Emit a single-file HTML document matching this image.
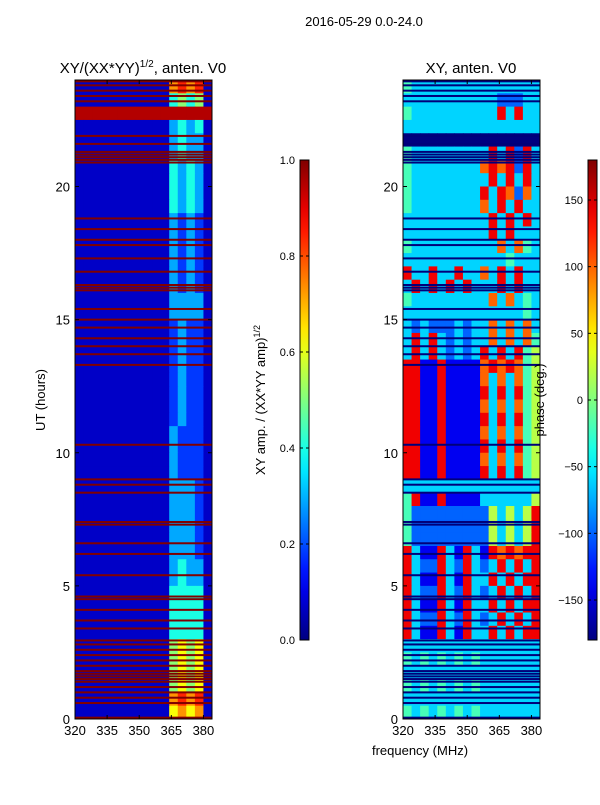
<!DOCTYPE html>
<html><head><meta charset="utf-8"><style>
body{margin:0;background:#fff;font-family:"Liberation Sans",sans-serif}
svg text{font-family:"Liberation Sans",sans-serif}
</style></head><body>
<svg id="fig" width="600" height="800" xmlns="http://www.w3.org/2000/svg">
<rect width="600" height="800" fill="#fff"/>
<text x="364" y="26" font-size="13" text-anchor="middle">2016-05-29 0.0-24.0</text>
<text x="143" y="73" font-size="15" text-anchor="middle">XY/(XX*YY)<tspan font-size="10" dy="-6">1/2</tspan><tspan dy="6">, anten. V0</tspan></text>
<text x="471" y="73" font-size="15" text-anchor="middle">XY, anten. V0</text>
<text transform="translate(45,400) rotate(-90)" font-size="13" text-anchor="middle">UT (hours)</text>
<text transform="translate(265,400) rotate(-90)" font-size="13" text-anchor="middle">XY amp. / (XX*YY amp)<tspan font-size="9" dy="-5">1/2</tspan></text>
<g id="g"></g>
<text transform="translate(544,400) rotate(-90)" font-size="13" text-anchor="middle">phase (deg.)</text>
<text x="420" y="755" font-size="13" text-anchor="middle">frequency (MHz)</text>
</svg>
<script>
const ampRows=[
"1111111111178781","1111111111145451","9999999999999999","1111111111134341","1111111111134331","1111111111134331",
"1111111111143431","1111111111143431","1111111111143431","1111111111143431",
"1111111111132321","1111111111132321","1111111111132321","1111111111132321","1111111111132321","1111111111132321",
"1111111111133331","1111111111133331",
"1111111111123221","1111111111123221","1111111111123221","1111111111123221","1111111111123221","1111111111123221","1111111111123221","1111111111123221",
"1111111111132221","1111111111132221","1111111111132221","1111111111132221",
"1111111111133321","1111111111133321","1111111111133321","1111111111133321","1111111111133321","1111111111133321",
"1111111111134331","1111111111134331",
"1111111111144441","1111111111144441","1111111111144441","1111111111144441",
"1111111111156561","1111111111156561","1111111111156561","1111111111156561",
"1111111111178781","1111111111167671"];
const phaseRows=[
"4333333333333333","3333333333322233","4333333333383833","3333333333333333","0000000000000000","4333333333838283",
"4333333337878283","4333333333838383","4333333338387273","4333333337383833","3333333333838383","3333333333838333",
"4333333333373743","3333333333334333","8338338337383833","3838383833383833","4333333333737343","3333333333333343",
"3232223233737373","3838323233737374","3838323238383845","8811811117878745",
"8811811117373745","8811811118383845","8811811117373745","8811811118383845","8811811117373745","8811811118383845","8811811117373745","8811811118383845",
"3333333333333333","4811811113333335","4222222222535358","4222222222535358","4222222222535358","8311831831878788",
"8322832832383838","8311831833838388","8322832832383838","8311831833838388","8322832832383838","8311831833838388",
"3333333333333333","4343434343333333","3333333333333333","4343434343333333","3333333333333333","4343434343333333"];
const flagHours=[23.95,23.8,23.6,23.4,23.2,21.9,21.6,21.3,21.2,21.1,21.0,20.9,18.8,18.4,18.0,17.8,17.3,16.8,16.3,16.2,16.1,15.4,15.0,14.7,14.3,14.0,13.7,13.3,10.3,9.0,8.8,8.5,7.4,7.3,6.6,6.2,5.4,4.6,4.5,4.1,3.7,3.4,2.95,2.8,2.6,2.4,2.2,2.0,1.8,1.7,1.6,1.5,1.4,1.2,1.0,0.8,0.6,0.05];
const xTicks=[320,335,350,365,380];
const yTicks=[0,5,10,15,20];
const ampTicks=["0.0","0.2","0.4","0.6","0.8","1.0"];
const phaseTicks=[-150,-100,-50,0,50,100,150];
(function(){
const NS="http://www.w3.org/2000/svg";
const g=document.getElementById('g');
function el(t,a,p){const e=document.createElementNS(NS,t);for(const k in a)e.setAttribute(k,a[k]);(p||g).appendChild(e);return e;}
function jet(v){v=Math.max(0,Math.min(1,v));
 const r=Math.min(1,Math.max(0,Math.min(4*v-1.5,-4*v+4.5)));
 const gg=Math.min(1,Math.max(0,Math.min(4*v-0.5,-4*v+3.5)));
 const b=Math.min(1,Math.max(0,Math.min(4*v+0.5,-4*v+2.5)));
 return `rgb(${Math.round(r*255)},${Math.round(gg*255)},${Math.round(b*255)})`;}
const f0=320,f1=384,h0=0,h1=24,yTop=80,yBot=719;
function yS(h){return yBot-(h-h0)/(h1-h0)*(yBot-yTop);}
function panel(x0,x1,rows,flagColor,name,cmap){
 const xS=f=>x0+(f-f0)/(f1-f0)*(x1-x0);
 const nr=rows.length,dh=(h1-h0)/nr;
 rows.forEach((row,i)=>{const nc=row.length,df=(f1-f0)/nc;
  for(let j=0;j<nc;j++){const d=+row[j];
   const hT=h1-i*dh;
   const r=el('rect',{x:xS(f0+j*df),y:yS(hT),width:xS(f0+(j+1)*df)-xS(f0+j*df)+0.5,height:yS(hT-dh)-yS(hT)+0.5,fill:jet(cmap(d))});
   
   }});
 flagHours.forEach(h=>{const r=el('rect',{x:x0,y:yS(h)-1,width:x1-x0,height:2,fill:flagColor});
  
  });
 const fr=el('rect',{x:x0,y:yTop,width:x1-x0,height:yBot-yTop,fill:'none',stroke:'#000','stroke-width':1});
 
 
 xTicks.forEach(f=>{const x=xS(f);el('line',{x1:x,x2:x,y1:yBot,y2:yBot-4,stroke:'#000'});el('line',{x1:x,x2:x,y1:yTop,y2:yTop+4,stroke:'#000'});
  const t=el('text',{x:x,y:yBot+16,'font-size':13,'text-anchor':'middle'});t.textContent=f;
  
  });
 yTicks.forEach(h=>{const y=yS(h);el('line',{x1:x0,x2:x0+4,y1:y,y2:y,stroke:'#000'});el('line',{x1:x1,x2:x1-4,y1:y,y2:y,stroke:'#000'});
  const t=el('text',{x:x0-5,y:y+5,'font-size':13,'text-anchor':'end'});t.textContent=h;
  
  });
}
panel(75,212,ampRows,'#800000','amp-panel',d=>(d-1)*0.11+0.07);
panel(403,540,phaseRows,'#00007a','phase-panel',d=>d/9);
function cbar(x,labels,vals,vmin,vmax,name){
 const defs=el('defs',{});const lg=el('linearGradient',{id:name+'g',x1:0,y1:1,x2:0,y2:0},defs);
 for(let i=0;i<=20;i++)el('stop',{offset:i/20,'stop-color':jet(i/20)},lg);
 const r=el('rect',{x:x,y:160,width:9,height:480,fill:`url(#${name}g)`,stroke:'#000'});
 
 
 vals.forEach((v,i)=>{const y=640-(v-vmin)/(vmax-vmin)*480;
  el('line',{x1:x,x2:x+3,y1:y,y2:y,stroke:'#000'});el('line',{x1:x+9,x2:x+6,y1:y,y2:y,stroke:'#000'});
  const t=el('text',{x:x-5,y:y+4,'font-size':11,'text-anchor':'end'});t.textContent=labels[i];
  
  });
}
cbar(300,ampTicks,ampTicks.map(Number),0,1,'amp-colorbar');
cbar(588,phaseTicks.map(v=>String(v).replace('-','\u2212')),phaseTicks,-180,180,'phase-colorbar');
})();
</script>
</body></html>
